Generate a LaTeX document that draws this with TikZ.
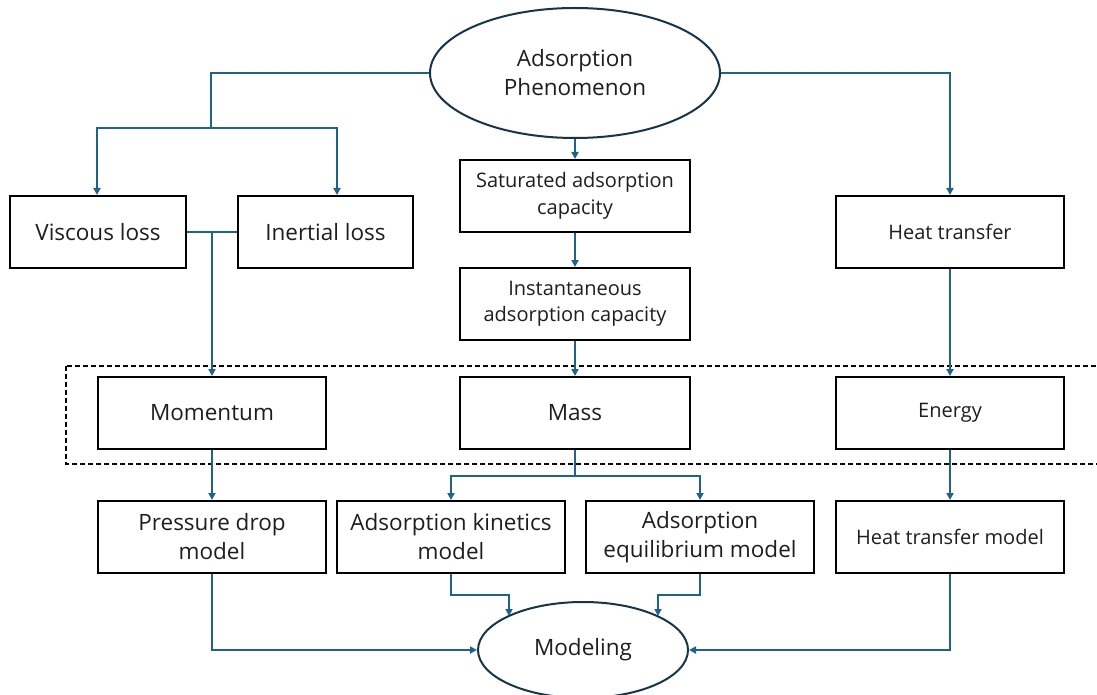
\documentclass[tikz,border=0pt]{standalone}
\usepackage{fontspec}
\setmainfont{Open Sans}
\usetikzlibrary{shapes.geometric,arrows.meta,calc}
\definecolor{lineblue}{RGB}{31,99,138}
\definecolor{ellcol}{RGB}{24,52,72}
\definecolor{txtcol}{RGB}{30,30,30}
\begin{document}
\begin{tikzpicture}[x=1pt,y=-1pt,
  box/.style={draw=black,line width=2pt,minimum width=228pt,minimum height=72pt,align=center,inner sep=2pt,text=txtcol,font=\fontsize{22.5}{29}\selectfont},
  sbox/.style={box,font=\fontsize{20}{26.5}\selectfont},
  ell/.style={ellipse,draw=ellcol,line width=2pt,inner sep=0pt,align=center,text=txtcol,font=\fontsize{22.5}{29}\selectfont},
  conn/.style={draw=lineblue,line width=1.8pt},
  arr/.style={conn,-{Triangle[width=7pt,length=7pt]}}]
\clip (0,0) rectangle (1097,695);
\fill[white] (0,0) rectangle (1097,695);
% dashed group
\draw[dashed,dash pattern=on 5pt off 3pt,line width=1.5pt] (66,366) rectangle (1115,464);
% nodes
\node[ell,minimum width=290pt,minimum height=130pt] (top) at (575,73) {Adsorption\\Phenomenon};
\node[box,minimum width=176pt] (vis) at (98,232) {Viscous loss};
\node[box,minimum width=175pt] (ine) at (325.5,232) {Inertial loss};
\node[sbox,minimum width=230pt] (sat) at (575,196) {Saturated adsorption\\capacity};
\node[sbox,minimum width=230pt] (ins) at (575,304) {Instantaneous\\adsorption capacity};
\node[sbox] (heat) at (950,232) {Heat transfer};
\node[box] (mom) at (212,413) {Momentum};
\node[box,minimum width=230pt] (mass) at (575,413) {Mass};
\node[sbox] (ene) at (950,413) {Energy};
\node[box] (pdm) at (212,537) {Pressure drop\\model};
\node[box] (akm) at (451,537) {Adsorption kinetics\\model};
\node[box] (aem) at (700,537) {Adsorption\\equilibrium model};
\node[sbox] (htm) at (950,537) {Heat transfer model};
\node[ell,minimum width=210pt,minimum height=96pt] (mod) at (583,650) {Modeling};
% coordinates
\coordinate (j1) at (211,128);
\coordinate (vT) at (97,128);
\coordinate (iT) at (337,128);
\coordinate (j2) at ($(vis.east)!0.5!(ine.west)$);
\coordinate (k1) at (509,595);
\coordinate (k2) at (509,616);
\coordinate (e1) at (658,595);
\coordinate (e2) at (658,616);
% connectors
\draw[conn] (top.west) -| (j1);
\draw[arr] (j1) -- (vT) -- (vT |- vis.north);
\draw[arr] (j1) -- (iT) -- (iT |- ine.north);
\draw[conn] (vis.east) -- (ine.west);
\draw[arr] (j2) -- (j2 |- mom.north);
\draw[arr] (top.south) -- (sat.north);
\draw[arr] (sat.south) -- (ins.north);
\draw[arr] (ins.south) -- (mass.north);
\draw[arr] (top.east) -| (heat.north);
\draw[arr] (heat.south) -- (ene.north);
\draw[arr] (mom.south) -- (pdm.north);
\draw[conn] (mass.south) -- ++(0,26) coordinate (j3);
\draw[arr] (j3) -| (akm.north);
\draw[arr] (j3) -| (aem.north);
\draw[arr] (ene.south) -- (htm.north);
\draw[arr] (pdm.south) |- (mod.west);
\draw[arr] (htm.south) |- (mod.east);
\draw[arr] (akm.south) |- (k1) -- (k2);
\draw[arr] (aem.south) |- (e1) -- (e2);
\end{tikzpicture}
\end{document}
